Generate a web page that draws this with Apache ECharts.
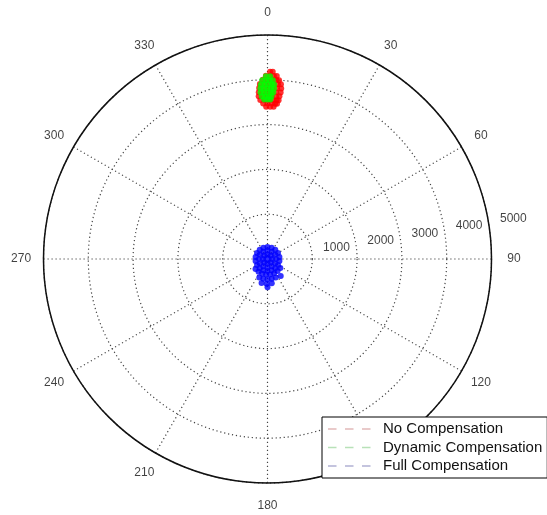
<!DOCTYPE html>
<html>
<head>
<meta charset="utf-8">
<script src="https://cdn.jsdelivr.net/npm/echarts@6/dist/echarts.min.js"></script>
<style>
  html, body { margin: 0; padding: 0; background: #fff; }
  #chart { width: 547px; height: 515px; }
</style>
</head>
<body>
<div id="chart"></div>
<script>
// angle ticks (degrees, clockwise from north)
const angleTicks = [0, 30, 60, 90, 120, 150, 180, 210, 240, 270, 300, 330];
const angleLabels = ['0', '30', '60', '90', '120', '150', '180', '210', '240', '270', '300', '330'];
// radius ticks
const radiusTicks = [1000, 2000, 3000, 4000, 5000];
const radiusLabels = ['1000', '2000', '3000', '4000', '5000'];

const seriesNames = ['No Compensation', 'Dynamic Compensation', 'Full Compensation'];

// point clouds: [radius, [angles...]]
const noCompRows = [
  [4180, [0.8, 1.6]],
  [4090, [-0.5, 0.8, 2, 2.9]],
  [4000, [-1.5, 0, 1.5, 2.8, 3.7]],
  [3910, [-2.5, -1, 0.5, 2, 3.4, 4.4]],
  [3820, [-2.8, -1.3, 0.2, 1.7, 3.2, 4.6]],
  [3730, [-3, -1.5, 0, 1.5, 3, 4.5]],
  [3640, [-3.1, -1.5, 0, 1.5, 3, 4.2]],
  [3550, [-2.6, -1, 0.5, 2, 3.3, 4]],
  [3470, [-1.6, 0, 1.5, 2.8, 3.5]],
  [3400, [-0.5, 1, 2.3]]
];
const dynCompRows = [
  [4080, [-0.5, 0.8]],
  [3990, [-1.7, -0.5, 0.7, 1.7]],
  [3900, [-2.2, -1, 0.2, 1.4, 2.2]],
  [3810, [-2.4, -1.2, 0, 1.2, 2.2]],
  [3720, [-2.4, -1.2, 0, 1.2, 2]],
  [3630, [-2, -0.8, 0.4, 1.4]],
  [3560, [-1.2, 0, 1]]
];
const fullCompRows = [
  [0, [0]],
  [100, [0, 45, 90, 135, 180, 225, 270, 315]],
  [190, [0, 30, 60, 90, 120, 150, 180, 210, 240, 270, 300, 330]],
  [270, [0, 20, 40, 60, 80, 100, 120, 140, 160, 180, 200, 220, 240, 260, 280, 300, 320, 340]],
  [350, [125, 140, 155, 170, 185, 200, 215, 230]],
  [450, [156, 168, 180, 192, 204]],
  [550, [170, 182, 194]],
  [630, [180]],
  [480, [142]]
];

function toPoints(rows) {
  const pts = [];
  rows.forEach(function (row) {
    row[1].forEach(function (a) { pts.push([row[0], a]); });
  });
  return pts;
}

const font = 'Liberation Sans, Arial, Helvetica, sans-serif';
const gridLine = { color: '#444', width: 1.2, type: [1.2, 2.8] };
const dashIcon = 'path://M0,0h8.5v1.5h-8.5z M17,0h8.5v1.5h-8.5z M34,0h8.5v1.5h-8.5z M49.99,0h0.01v1.5h-0.01z';

const chart = echarts.init(document.getElementById('chart'));

const textSeries = function (data, fmt) {
  return {
    type: 'scatter',
    coordinateSystem: 'polar',
    symbolSize: 1,
    itemStyle: { color: 'rgba(0,0,0,0)' },
    silent: true,
    clip: false,
    z: 3,
    label: {
      show: true,
      position: 'inside',
      fontSize: 12,
      fontFamily: font,
      color: '#111',
      formatter: fmt
    },
    data: data
  };
};

chart.setOption({
  backgroundColor: '#fff',
  animation: false,
  polar: { center: [267.5, 259], radius: 224 },
  angleAxis: {
    type: 'value',
    min: 0,
    max: 360,
    interval: 30,
    startAngle: 90,
    clockwise: true,
    axisLine: { lineStyle: { color: '#111', width: 1.5 } },
    axisTick: { show: false },
    axisLabel: { show: false },
    splitLine: { show: true, lineStyle: gridLine }
  },
  radiusAxis: {
    type: 'value',
    min: 0,
    max: 5000,
    interval: 1000,
    axisLine: { show: false },
    axisTick: { show: false },
    axisLabel: { show: false },
    splitLine: { show: true, lineStyle: gridLine }
  },
  legend: {
    orient: 'vertical',
    left: 322,
    top: 417,
    z: 10,
    padding: [4.5, 5, 4.5, 6],
    itemGap: 3.5,
    itemWidth: 50,
    itemHeight: 1.5,
    icon: dashIcon,
    borderColor: '#000',
    borderWidth: 1,
    backgroundColor: '#fff',
    textStyle: { fontSize: 15, lineHeight: 15, color: '#111', fontFamily: font },
    data: [
      { name: seriesNames[0], itemStyle: { color: '#dba6a6' } },
      { name: seriesNames[1], itemStyle: { color: '#a6d9a6' } },
      { name: seriesNames[2], itemStyle: { color: '#9c9cc8' } }
    ]
  },
  series: [
    {
      name: seriesNames[0],
      type: 'scatter',
      coordinateSystem: 'polar',
      symbol: 'circle',
      symbolSize: 6,
      itemStyle: { color: '#ff0000' },
      data: toPoints(noCompRows)
    },
    {
      name: seriesNames[1],
      type: 'scatter',
      coordinateSystem: 'polar',
      symbol: 'circle',
      symbolSize: 6,
      itemStyle: { color: '#00ff00' },
      data: toPoints(dynCompRows)
    },
    {
      name: seriesNames[2],
      type: 'scatter',
      coordinateSystem: 'polar',
      symbol: 'circle',
      symbolSize: 6,
      itemStyle: { color: '#0000ff' },
      data: toPoints(fullCompRows)
    },
    // angle labels at 1.1 x outer radius, radius labels just above the 90 spoke
    textSeries(angleTicks.map(function (a) { return [5500, a]; }), function (p) {
      return angleLabels[p.dataIndex];
    }),
    textSeries(radiusTicks.map(function (r) { return [r + 560, 80.7]; }), function (p) {
      return radiusLabels[p.dataIndex];
    })
  ]
});
</script>
</body>
</html>
